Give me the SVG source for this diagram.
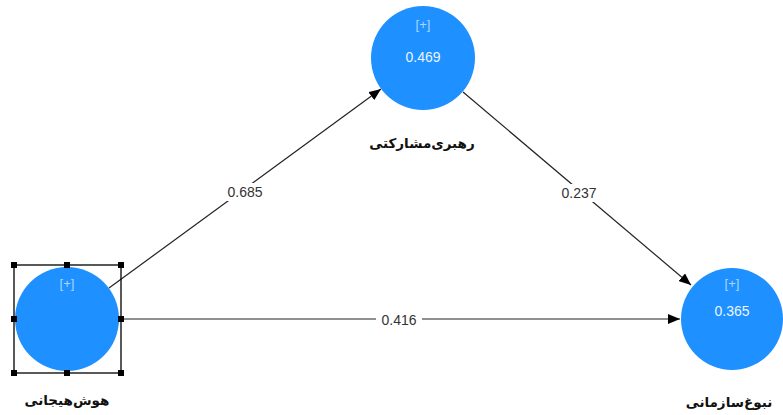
<svg xmlns="http://www.w3.org/2000/svg" width="783" height="415" viewBox="0 0 783 415">
<defs>
<marker id="arr" viewBox="0 0 12 10" refX="12" refY="5" markerWidth="12" markerHeight="10" markerUnits="userSpaceOnUse" orient="auto">
<path d="M0,0 L12,5 L0,10 z" fill="#000"/>
</marker>
</defs>
<style>
.node{fill:#1e90ff}
.plus{font-family:"Liberation Sans",Arial,sans-serif;font-size:13px;fill:#a9d6ff;text-anchor:middle}
.val{font-family:"Liberation Sans",Arial,sans-serif;font-size:14px;fill:#eaf5ff;text-anchor:middle}
.name{font-family:"DejaVu Sans","Noto Sans",sans-serif;font-size:13.5px;font-weight:bold;fill:#111;text-anchor:middle}
.edge{stroke:#222;stroke-width:1.2;fill:none;marker-end:url(#arr)}
.lbl{font-family:"Liberation Sans",Arial,sans-serif;font-size:14px;fill:#333;text-anchor:middle}
.lblbg{fill:#fff}
.sel{fill:none;stroke:#000;stroke-width:1.3}
.h{fill:#000}
</style>
<rect width="783" height="415" fill="#fff"/>
<g id="connectors">
<line class="edge" x1="109" y1="288" x2="381" y2="89"/>
<line class="edge" x1="463" y1="92" x2="691" y2="285"/>
<line class="edge" x1="121" y1="319" x2="680" y2="319"/>
<rect class="lblbg" x="223" y="183" width="44" height="18"/>
<text class="lbl" x="245" y="197">0.685</text>
<rect class="lblbg" x="557" y="184" width="44" height="18"/>
<text class="lbl" x="579" y="198">0.237</text>
<rect class="lblbg" x="376" y="311" width="46" height="18"/>
<text class="lbl" x="399" y="325">0.416</text>
</g>
<g id="node-top">
<circle class="node" cx="423" cy="58" r="52"/>
<text class="plus" x="423" y="29">[+]</text>
<text class="val" x="423" y="62">0.469</text>
<text class="name" x="422" y="148">رهبری‌مشارکتی</text>
</g>
<g id="node-left">
<circle class="node" cx="67" cy="319" r="52"/>
<text class="plus" x="67" y="288">[+]</text>
<rect class="sel" x="14" y="265" width="107" height="108"/>
<rect class="h" x="11" y="262" width="6" height="6"/>
<rect class="h" x="64" y="262" width="6" height="6"/>
<rect class="h" x="118" y="262" width="6" height="6"/>
<rect class="h" x="11" y="316" width="6" height="6"/>
<rect class="h" x="118" y="316" width="6" height="6"/>
<rect class="h" x="11" y="370" width="6" height="6"/>
<rect class="h" x="64" y="370" width="6" height="6"/>
<rect class="h" x="118" y="370" width="6" height="6"/>
<text class="name" x="67" y="405">هوش‌هیجانی</text>
</g>
<g id="node-right">
<circle class="node" cx="732" cy="319" r="51"/>
<text class="plus" x="732" y="288">[+]</text>
<text class="val" x="732" y="316">0.365</text>
<text class="name" x="729" y="407">نبوغ‌سازمانی</text>
</g>
</svg>
